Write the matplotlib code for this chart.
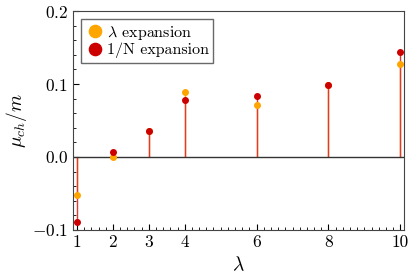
import matplotlib
matplotlib.use('Agg')
import matplotlib.pyplot as plt
from matplotlib.ticker import MultipleLocator

lam = [1, 2, 3, 4, 6, 8, 10]
mu_lambda = [-0.052, 0.000, 0.035, 0.089, 0.071, 0.099, 0.127]
mu_largeN = [-0.089, 0.007, 0.036, 0.078, 0.083, 0.099, 0.144]
xticks = [1, 2, 3, 4, 6, 8, 10]
yticks = [-0.1, 0.0, 0.1, 0.2]

c_lam = '#ffa500'
c_N = '#cc0000'
c_stem = '#e03a30'

plt.rcParams['font.family'] = 'serif'
plt.rcParams['font.serif'] = ['cmr10']
plt.rcParams['mathtext.fontset'] = 'cm'
plt.rcParams['axes.formatter.use_mathtext'] = True

fig = plt.figure(figsize=(4.15, 2.77), dpi=100)
ax = fig.add_axes([0.176, 0.17, 0.798, 0.79])

#竖线：先画橙色，再画红色
ax.vlines(lam, 0, mu_lambda, colors=c_lam, lw=1.0)
ax.vlines(lam, 0, mu_largeN, colors=c_stem, lw=1.0)
ax.axhline(0, color='#333333', lw=1.0)

ax.plot(lam, mu_lambda, 'o', color=c_lam, ms=4, label=r'$\lambda$ expansion')
ax.plot(lam, mu_largeN, 'o', color=c_N, ms=4, label='1/N expansion')

ax.set_xlim(0.89, 10.11)
ax.set_ylim(-0.1, 0.2)
ax.set_xticks(xticks)
ax.set_xticklabels([str(v) for v in xticks])
ax.set_yticks(yticks)
ax.set_yticklabels([r'$-0.1$', r'$0.0$', r'$0.1$', r'$0.2$'])
ax.xaxis.set_minor_locator(MultipleLocator(0.2))
ax.yaxis.set_minor_locator(MultipleLocator(0.02))
ax.tick_params(which='both', direction='in', labelsize=12.5, top=False, right=False)
ax.tick_params(which='major', length=4)
ax.tick_params(which='minor', length=2)
for s in ax.spines.values():
    s.set_color('#444444')

ax.set_xlabel(r'$\lambda$', fontsize=14, labelpad=4)
ax.set_ylabel(r'$\mu_{ch}/m$', fontsize=14, labelpad=2)

leg = ax.legend(loc='upper left', fontsize=11.5, markerscale=2.2, fancybox=False,
                handletextpad=0.1, handlelength=1.2, borderpad=0.3,
                labelspacing=0.05, borderaxespad=0.5)
leg.get_frame().set_edgecolor('#444444')
leg.get_frame().set_linewidth(1.0)

plt.savefig('out.png', dpi=100)
